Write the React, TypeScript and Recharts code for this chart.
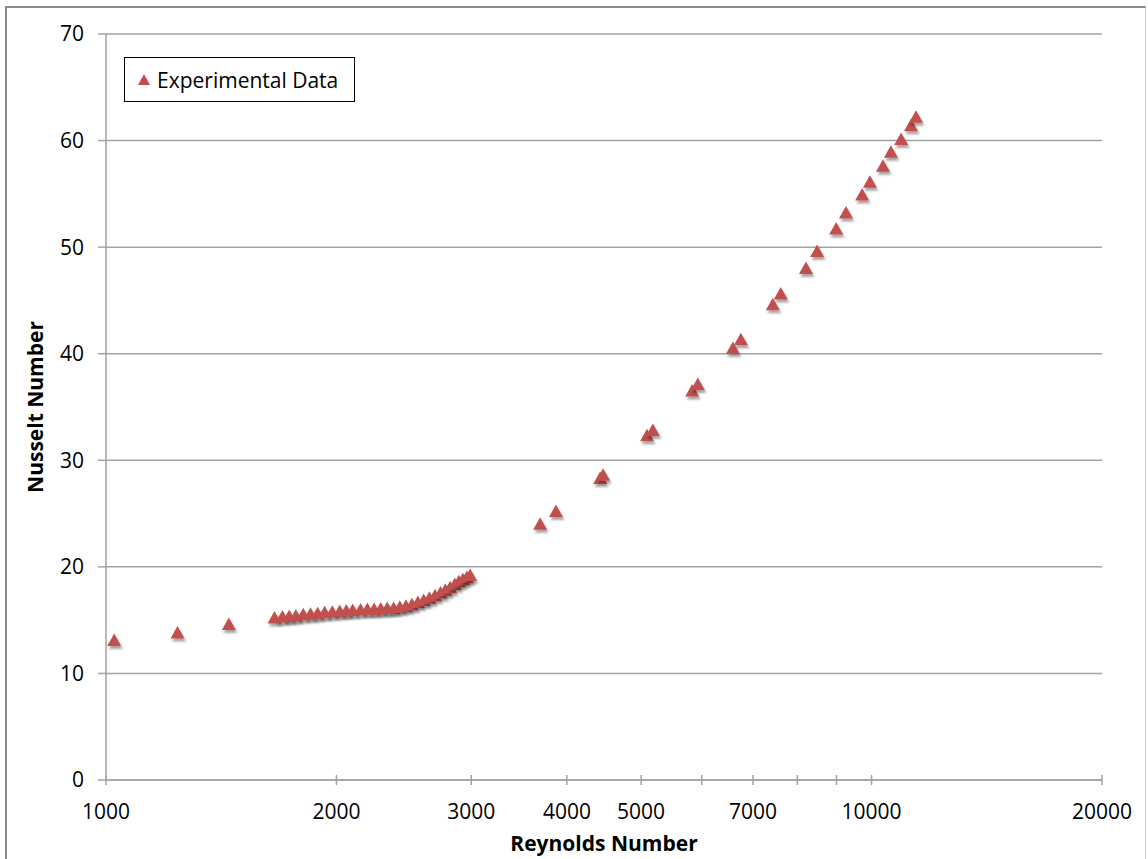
import React from 'react'
import { CartesianGrid, Label, Scatter, ScatterChart, XAxis, YAxis } from 'recharts';

// Reynolds number vs Nusselt number
const reynolds = [
    1025, 1240, 1447,
    1660, 1700, 1735, 1770, 1810, 1850, 1890, 1930, 1975, 2020, 2060, 2100, 2150, 2195, 2240, 2285,
    2330, 2375, 2420, 2465, 2510, 2555, 2600, 2645, 2690, 2735, 2775, 2815, 2855, 2890, 2925, 2960, 2990,
    3690, 3870, 4420, 4460, 5090, 5180, 5830, 5930, 6590, 6750, 7430, 7610, 8210, 8490, 8990, 9260,
    9720, 9950, 10350, 10600, 10930, 11260, 11430
];
const nusselt = [
    13.1, 13.8, 14.6,
    15.2, 15.3, 15.35, 15.4, 15.5, 15.55, 15.6, 15.7, 15.75, 15.8, 15.85, 15.9, 15.95, 16.0, 16.0, 16.05,
    16.1, 16.1, 16.2, 16.3, 16.45, 16.65, 16.85, 17.05, 17.3, 17.55, 17.8, 18.05, 18.35, 18.6, 18.8, 19.0, 19.2,
    24.0, 25.2, 28.3, 28.6, 32.3, 32.8, 36.5, 37.1, 40.5, 41.3, 44.6, 45.6, 48.0, 49.6, 51.7, 53.2,
    54.9, 56.1, 57.6, 58.9, 60.1, 61.4, 62.2
];
const xTicks = [1000, 2000, 3000, 4000, 5000, 6000, 7000, 8000, 9000, 10000, 20000];
const xTickLabels = ['1000', '2000', '3000', '4000', '5000', '', '7000', '', '', '10000', '20000'];
const yTicks = [0, 10, 20, 30, 40, 50, 60, 70];

const font = '"Open Sans", "Liberation Sans", sans-serif';
const grey = '#a3a3a3';
const red = '#c0504d';

const data = reynolds.map((re, i) => ({ re, nu: nusselt[i] }));

function Triangle(props: any) {
    const { cx, cy } = props;
    if (cx == null || cy == null) return null;
    return (
        <polygon
            points={`${cx},${cy - 7} ${cx + 7},${cy + 5.5} ${cx - 7},${cy + 5.5}`}
            fill={red}
            filter="url(#markShadow)"
        />
    );
}

function XTick(props: any) {
    const { x, y, payload } = props;
    const text = xTickLabels[xTicks.indexOf(payload.value)] ?? '';
    return (
        <g>
            <line x1={x} x2={x} y1={y - 5} y2={y + 5} stroke={grey} strokeWidth={1.5} />
            {text && (
                <text x={x} y={y + 39} textAnchor="middle" fontSize={21} fontFamily={font} fill="#000">{text}</text>
            )}
        </g>
    );
}

// the legend sits inside the plot, so it is drawn on top of the chart
function LegendBox() {
    return (
        <div style={{
            position: 'absolute', left: 124, top: 57,
            border: '1.5px solid #000', width: 231, height: 45, boxSizing: 'border-box',
            display: 'flex', alignItems: 'center', paddingLeft: 12, fontFamily: font, fontSize: 21, background: '#fff'
        }}>
            <svg width={14} height={14} style={{ marginRight: 6 }}>
                <polygon points="7,1 13,12 1,12" fill={red} />
            </svg>
            <span>Experimental Data</span>
        </div>
    );
}

export default function App() {
    return (
        <div style={{ position: 'absolute', left: 0, top: 0, width: 1148, height: 859, overflow: 'hidden', background: '#fff' }}>
            <div style={{
                position: 'absolute', left: 5, top: 6, width: 1138, height: 900,
                borderLeft: '2px solid #8a8a8a', borderTop: '2px solid #8a8a8a', borderRight: '1px solid #d0d0d0'
            }} />
            <div style={{ position: 'absolute', left: 0, top: 0 }}>
                <ScatterChart width={1148} height={859} margin={{ top: 34, right: 46, bottom: 0, left: 0 }}>
                    <defs>
                        <filter id="markShadow" x="-50%" y="-50%" width="200%" height="200%">
                            <feDropShadow dx={1.5} dy={3} stdDeviation={1.3} floodColor="#000" floodOpacity={0.35} />
                        </filter>
                    </defs>
                    <CartesianGrid vertical={false} stroke={grey} strokeWidth={1.5} />
                    <XAxis
                        type="number" dataKey="re" scale="log" domain={[1000, 20000]} ticks={xTicks}
                        interval={0} height={79} tickSize={0} tickMargin={0} tickLine={false}
                        axisLine={{ stroke: grey, strokeWidth: 1.5 }} tick={<XTick />}
                    >
                        <Label
                            content={(p: any) => {
                                const vb = p.viewBox;
                                return (
                                    <text x={vb.x + vb.width / 2} y={vb.y + 71} textAnchor="middle"
                                        fontSize={21} fontWeight="bold" fontFamily={font} fill="#000">Reynolds Number</text>
                                );
                            }}
                        />
                    </XAxis>
                    <YAxis
                        type="number" dataKey="nu" domain={[0, 70]} ticks={yTicks} width={106}
                        tickSize={8} tickMargin={14}
                        tickLine={{ stroke: grey, strokeWidth: 1.5 }} axisLine={{ stroke: grey, strokeWidth: 1.5 }}
                        tick={{ fill: '#000', fontSize: 21, fontFamily: font }}
                    >
                        <Label
                            content={(p: any) => {
                                const vb = p.viewBox;
                                const cy = vb.y + vb.height / 2;
                                return (
                                    <text x={43} y={cy} transform={`rotate(-90, 43, ${cy})`} textAnchor="middle"
                                        fontSize={21} fontWeight="bold" fontFamily={font} fill="#000">Nusselt Number</text>
                                );
                            }}
                        />
                    </YAxis>
                    <Scatter name="Experimental Data" data={data} shape={<Triangle />} isAnimationActive={false} />
                </ScatterChart>
            </div>
            <LegendBox />
        </div>
    )
}
